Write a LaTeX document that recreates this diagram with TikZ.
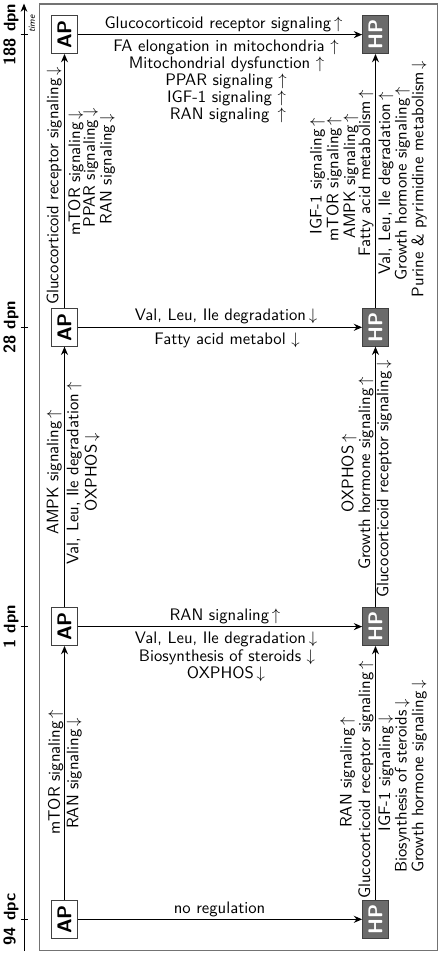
\documentclass[tikz,border=0pt]{standalone}
\usetikzlibrary{arrows.meta}
\begin{document}
\begin{tikzpicture}[x=0.6pt,y=-0.6pt,
  hlab/.style={anchor=base,inner sep=0pt,font=\sffamily,text height=6.9pt,text depth=1.9pt},
  vlab/.style={rotate=90,anchor=base,inner sep=0pt,font=\sffamily,text height=6.9pt,text depth=1.9pt},
  apbox/.style={draw=black!75,fill=white,line width=0.6pt,rotate=90,minimum width=22.6pt,minimum height=15.4pt,inner sep=0pt,font=\sffamily\bfseries\fontsize{12}{12}\selectfont},
  hpbox/.style={apbox,fill=black!58,text=white},
  flow/.style={-{Stealth[length=5pt,width=4.2pt]},line width=0.75pt},
  axlab/.style={rotate=90,anchor=base,inner sep=0pt,font=\sffamily\bfseries},
  tickmark/.style={line width=0.5pt}
]
\useasboundingbox (0,0) rectangle (442,955);
% frame
\draw[black!55,line width=0.7pt] (39.3,4) rectangle (437.7,950.7);
% time axis
\coordinate (t0) at (24,951);
\coordinate (t1) at (24,3.5);
\draw[-{Stealth[length=5pt,width=4pt]},line width=0.6pt] (t0) -- (t1);
\foreach \yy in {919.3,626.7,327.3,34.7}{\draw[tickmark] (20.5,\yy) -- (28,\yy);}
\node[axlab] (d1) at (15.5,919.3) {94 dpc};
\node[axlab] (d2) at (15.5,626.7) {1 dpn};
\node[axlab] (d3) at (15.5,327.3) {28 dpn};
\node[axlab] (d4) at (15.5,34.7) {188 dpn};
\node[rotate=90,inner sep=0pt,font=\sffamily\itshape\fontsize{5.5}{6}\selectfont] (tm) at (32,24) {time};
% boxes
\node[apbox] (ap1) at (64.5,919.3) {AP};
\node[apbox] (ap2) at (64.5,626.6) {AP};
\node[apbox] (ap3) at (64.5,327.3) {AP};
\node[apbox] (ap4) at (64.5,34.6) {AP};
\node[hpbox] (hp1) at (375.5,919.3) {HP};
\node[hpbox] (hp2) at (375.5,626.6) {HP};
\node[hpbox] (hp3) at (375.5,327.3) {HP};
\node[hpbox] (hp4) at (375.5,34.6) {HP};
% arrows
\draw[flow] (ap1) -- (hp1);
\draw[flow] (ap2) -- (hp2);
\draw[flow] (ap3) -- (hp3);
\draw[flow] (ap4) -- (hp4);
\draw[flow] (ap1) -- (ap2);
\draw[flow] (ap2) -- (ap3);
\draw[flow] (ap3) -- (ap4);
\draw[flow] (hp1) -- (hp2);
\draw[flow] (hp2) -- (hp3);
\draw[flow] (hp3) -- (hp4);
% horizontal labels
\node[hlab] (g4a) at (223.5,28.5) {Glucocorticoid receptor signaling\,$\uparrow$};
\node[hlab] (g4b) at (226,51.5) {FA elongation in mitochondria $\uparrow$};
\node[hlab] (g4c) at (226.5,68) {Mitochondrial dysfunction $\uparrow$};
\node[hlab] (g4d) at (226,85) {PPAR signaling $\uparrow$};
\node[hlab] (g4e) at (226.5,102) {IGF-1 signaling $\uparrow$};
\node[hlab] (g4f) at (228,119) {RAN signaling\enspace$\uparrow$};
\node[hlab] (g3a) at (226,320.7) {Val, Leu, Ile degradation\,$\downarrow$};
\node[hlab] (g3b) at (227,344) {Fatty acid metabol $\downarrow$};
\node[hlab] (g2a) at (225,620) {RAN signaling\,$\uparrow$};
\node[hlab] (g2b) at (226,643.3) {Val, Leu, Ile degradation\,$\downarrow$};
\node[hlab] (g2c) at (227,661.7) {Biosynthesis of steroids $\downarrow$};
\node[hlab] (g2d) at (226,678.3) {OXPHOS\,$\downarrow$};
\node[hlab] (g1a) at (219.5,913.3) {no regulation};
% vertical labels, top section
\node[vlab] (a4a) at (58.3,186) {Glucocorticoid receptor signaling\,$\downarrow$};
\node[vlab] (a4b) at (80,173.5) {mTOR signaling\,$\downarrow$};
\node[vlab] (a4c) at (95,168) {PPAR signaling\,$\downarrow$};
\node[vlab] (a4d) at (111.7,169) {RAN signaling\,$\downarrow$};
\node[vlab] (h4a) at (321.7,176.5) {IGF-1 signaling\,$\uparrow$};
\node[vlab] (h4b) at (338.3,179) {mTOR signaling\,$\uparrow$};
\node[vlab] (h4c) at (355,176.5) {AMPK signaling\,$\uparrow$};
\node[vlab] (h4d) at (370,173) {Fatty acid metabolism\,$\uparrow$};
\node[vlab] (h4e) at (390,183.5) {Val, Leu, Ile degradation\,$\uparrow$};
\node[vlab] (h4f) at (406.7,184) {Growth hormone signaling\,$\uparrow$};
\node[vlab] (h4g) at (423.3,179) {Purine \& pyrimidine metabolism\,$\downarrow$};
% middle section
\node[vlab] (a3a) at (58.3,472.5) {AMPK signaling\,$\uparrow$};
\node[vlab] (a3b) at (78.3,473.5) {Val, Leu, Ile degradation\,$\uparrow$};
\node[vlab] (a3c) at (96.7,472.5) {OXPHOS\,$\downarrow$};
\node[vlab] (h3a) at (353.3,473.5) {OXPHOS\,$\uparrow$};
\node[vlab] (h3b) at (370,473.5) {Growth hormone signaling\,$\uparrow$};
\node[vlab] (h3c) at (388.3,479) {Glucocorticoid receptor signaling\,$\downarrow$};
% lower section
\node[vlab] (a2a) at (60,772.5) {mTOR signaling\,$\uparrow$};
\node[vlab] (a2b) at (78.3,773.5) {RAN signaling\,$\downarrow$};
\node[vlab] (h2a) at (351.7,772.5) {RAN signaling\,$\uparrow$};
\node[vlab] (h2b) at (370,780) {Glucocorticoid receptor signaling\,$\uparrow$};
\node[vlab] (h2c) at (390,773.5) {IGF-1 signaling\,$\downarrow$};
\node[vlab] (h2d) at (406.7,786) {Biosynthesis of steroids\,$\downarrow$};
\node[vlab] (h2e) at (423.3,776.5) {Growth hormone signaling\,$\downarrow$};
\end{tikzpicture}
\end{document}
